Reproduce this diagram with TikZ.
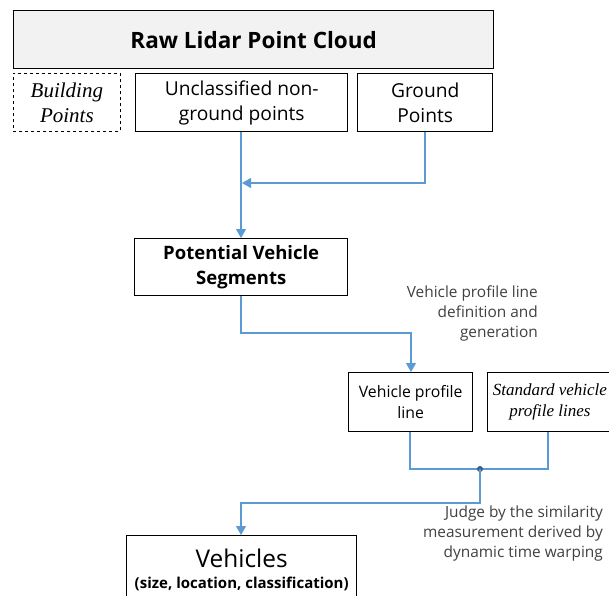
\documentclass[tikz,border=0pt]{standalone}
\usepackage{fontspec}
\setmainfont{Liberation Serif}
\setsansfont{Open Sans}
\usetikzlibrary{arrows.meta}

\definecolor{flowblue}{HTML}{5B9BD5}
\definecolor{notegray}{HTML}{404040}

\tikzset{
    box/.style={draw, line width=1.4pt, inner sep=0pt, anchor=north west, align=center, font=\sffamily},
    flow/.style={draw=flowblue, line width=1.1pt, -{Triangle[width=10pt,length=9pt]}},
    link/.style={draw=flowblue, line width=1.1pt},
    note/.style={anchor=north east, align=right, inner sep=0pt, text=notegray,
        font=\sffamily\fontsize{15.4}{20}\selectfont},
}

\begin{document}
\begin{tikzpicture}[x=1pt, y=-1pt]
    \useasboundingbox (0,0) rectangle (609,595);
    \clip (0,0) rectangle (609,595);

    % input clouds
    \node[box, fill=gray!10, minimum width=480pt, minimum height=58pt,
        font=\sffamily\bfseries\fontsize{22.5}{26}\selectfont] (raw) at (13,10) {Raw Lidar Point Cloud};
    \node[box, dashed, line width=0.8pt, minimum width=107pt, minimum height=58pt,
        font=\itshape\fontsize{21}{25}\selectfont] (bldg) at (13,73) {Building\\Points};
    \node[box, minimum width=212pt, minimum height=58pt,
        font=\sffamily\fontsize{19.2}{25}\selectfont] (ung) at (135,73) {Unclassified non-\\ground points};
    \node[box, minimum width=135pt, minimum height=58pt,
        font=\sffamily\fontsize{19.2}{25}\selectfont] (gnd) at (357,73) {Ground\\Points};

    % segments and profiles
    \node[box, minimum width=213pt, minimum height=57pt,
        font=\sffamily\bfseries\fontsize{18.5}{25}\selectfont] (seg) at (134,238) {Potential Vehicle\\Segments};
    \node[box, minimum width=124pt, minimum height=59pt,
        font=\sffamily\fontsize{15.8}{21}\selectfont] (vpl) at (348,372) {Vehicle profile\\line};
    \node[box, line width=0.8pt, minimum width=125pt, minimum height=59pt,
        font=\itshape\fontsize{17}{21}\selectfont] (std) at (487,372) {Standard vehicle\\profile lines};

    % result
    \node[box, minimum width=230pt, minimum height=68pt] (veh) at (126,535)
        {{\fontsize{24.4}{28}\selectfont Vehicles}\\[9pt]{\bfseries\fontsize{15}{18}\selectfont (size, location, classification)}};

    % connectors
    \coordinate (mid) at (480,469);
    \coordinate (jturn) at (480,503);

    \draw[flow] (ung.south -| 241,0) -- (seg.north -| 241,0);
    \draw[flow] (gnd.south -| 425,0) -- (425,183) -- (242,183);
    \draw[flow] (seg.south -| 241,0) -- (241,333) -- (411,333) -- (vpl.north -| 411,0);
    \draw[link] (vpl.south -| 410,0) -- (410,469) -- (548,469) -- (std.south -| 548,0);
    \fill[flowblue!60!black] (mid) circle (3pt);
    \draw[flow] (mid) -- (jturn) -- (241,503) -- (veh.north -| 241,0);

    % notes
    \node[note] (defn) at (538,286) {Vehicle profile line\\definition and\\generation};
    \node[note] (dtw) at (603,506) {Judge by the similarity\\measurement derived by\\dynamic time warping};
\end{tikzpicture}
\end{document}
